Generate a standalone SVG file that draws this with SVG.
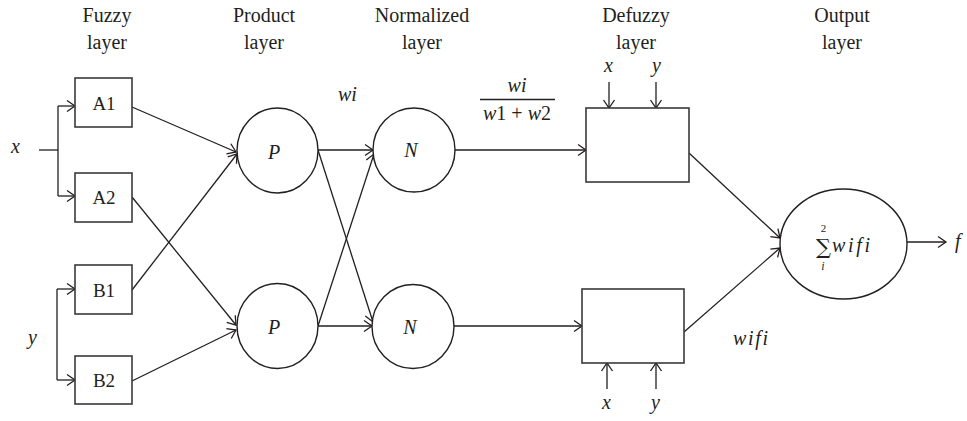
<svg xmlns="http://www.w3.org/2000/svg" width="967" height="421" viewBox="0 0 967 421">
  <defs>
    <marker id="ah" markerUnits="userSpaceOnUse" viewBox="-10 -8 12 16" markerWidth="12" markerHeight="16" refX="0" refY="0" orient="auto" overflow="visible">
      <path d="M-8,-5.5 L0,0 L-8,5.5" fill="none" stroke="#231f20" stroke-width="1.3"/>
    </marker>
    <style>
      text { font-family: "Liberation Serif", "Times New Roman", serif; fill: #231f20; }
      .hd { font-size: 20px; text-anchor: middle; }
      .lb { font-size: 19px; text-anchor: middle; }
      .it { font-size: 20px; font-style: italic; }
      .node { fill: #ffffff; stroke: #231f20; stroke-width: 1.4; }
      .box { fill: #ffffff; stroke: #3a3a3a; stroke-width: 1.6; }
      .conn line, .conn path { fill: none; stroke: #231f20; stroke-width: 1.3; }
      .arr { marker-end: url(#ah); }
    </style>
  </defs>
  <rect width="967" height="421" fill="#ffffff"/>

  <!-- layer headings -->
  <g id="headings">
    <text class="hd" x="107" y="22">Fuzzy</text>
    <text class="hd" x="107" y="49">layer</text>
    <text class="hd" x="264" y="22">Product</text>
    <text class="hd" x="264" y="49">layer</text>
    <text class="hd" x="422" y="22">Normalized</text>
    <text class="hd" x="422" y="49">layer</text>
    <text class="hd" x="636" y="22">Defuzzy</text>
    <text class="hd" x="636" y="49">layer</text>
    <text class="hd" x="842" y="22">Output</text>
    <text class="hd" x="842" y="49">layer</text>
  </g>

  <!-- connectors -->
  <g id="connectors" class="conn">
    <!-- input x fan-out -->
    <line x1="39" y1="150" x2="58" y2="150"/>
    <line x1="58" y1="106" x2="58" y2="196"/>
    <line class="arr" x1="58" y1="106" x2="75" y2="106"/>
    <line class="arr" x1="58" y1="196" x2="75" y2="196"/>
    <!-- input y fan-out -->
    <line x1="57" y1="289" x2="57" y2="380"/>
    <line class="arr" x1="57" y1="289" x2="75" y2="289"/>
    <line class="arr" x1="57" y1="380" x2="75" y2="380"/>
    <!-- fuzzy to product -->
    <line class="arr" x1="132" y1="107" x2="236" y2="152"/>
    <line class="arr" x1="132" y1="290" x2="237" y2="154"/>
    <line class="arr" x1="132" y1="197" x2="236" y2="325"/>
    <line class="arr" x1="132" y1="381" x2="236" y2="330"/>
    <!-- product to normalized -->
    <line class="arr" x1="318" y1="150" x2="373" y2="150"/>
    <line class="arr" x1="318" y1="150" x2="373" y2="322"/>
    <line class="arr" x1="318" y1="326" x2="374" y2="154"/>
    <line class="arr" x1="318" y1="326" x2="372" y2="326"/>
    <!-- normalized to defuzzy -->
    <line class="arr" x1="455" y1="150" x2="586" y2="150"/>
    <line class="arr" x1="453" y1="326" x2="582" y2="326"/>
    <!-- x, y into defuzzy blocks -->
    <line class="arr" x1="609" y1="82" x2="609" y2="108"/>
    <line class="arr" x1="656" y1="82" x2="656" y2="108"/>
    <line class="arr" x1="607" y1="389" x2="607" y2="363"/>
    <line class="arr" x1="656" y1="389" x2="656" y2="363"/>
    <!-- defuzzy to output -->
    <line class="arr" x1="689" y1="153" x2="780" y2="238"/>
    <line class="arr" x1="684" y1="332" x2="780" y2="248"/>
    <line class="arr" x1="907" y1="242" x2="946" y2="242"/>
  </g>

  <!-- input labels -->
  <g id="inputs">
    <text class="it" x="11" y="153">x</text>
    <text class="it" x="28" y="344">y</text>
    <text class="it" x="604" y="72">x</text>
    <text class="it" x="652" y="72">y</text>
    <text class="it" x="602" y="409">x</text>
    <text class="it" x="651" y="409">y</text>
  </g>

  <!-- fuzzy layer -->
  <g id="A1"><rect class="box" x="75" y="78" width="57" height="49"/><text class="lb" x="104" y="110">A1</text></g>
  <g id="A2"><rect class="box" x="75" y="173" width="57" height="49"/><text class="lb" x="104" y="204">A2</text></g>
  <g id="B1"><rect class="box" x="75" y="265" width="57" height="49"/><text class="lb" x="104" y="297">B1</text></g>
  <g id="B2"><rect class="box" x="75" y="356" width="57" height="48"/><text class="lb" x="104" y="387">B2</text></g>

  <!-- product layer -->
  <g id="P1"><ellipse class="node" cx="277.5" cy="150.5" rx="40.5" ry="42.5"/><text class="it" x="274" y="159" text-anchor="middle">P</text></g>
  <g id="P2"><ellipse class="node" cx="277.5" cy="326" rx="40.5" ry="42.5"/><text class="it" x="274" y="334" text-anchor="middle">P</text></g>

  <!-- normalized layer -->
  <g id="N1"><ellipse class="node" cx="414" cy="150" rx="41" ry="42"/><text class="it" x="411" y="157" text-anchor="middle">N</text></g>
  <g id="N2"><ellipse class="node" cx="413" cy="326.5" rx="41" ry="42"/><text class="it" x="410" y="334" text-anchor="middle">N</text></g>

  <!-- defuzzy layer -->
  <g id="D1"><rect class="box" x="586" y="108" width="103" height="74"/></g>
  <g id="D2"><rect class="box" x="582" y="289" width="102" height="74"/></g>

  <!-- output layer: summation with limits -->
  <g id="OUT">
    <ellipse class="node" cx="843.5" cy="244" rx="63.5" ry="55"/>
    <text x="823.5" y="254" text-anchor="middle" style="font-family:'DejaVu Serif',serif;font-size:21px">∑</text>
    <text x="823.5" y="232" text-anchor="middle" style="font-size:11px">2</text>
    <text x="823" y="270" text-anchor="middle" style="font-size:12px;font-style:italic">i</text>
    <text class="it" x="832" y="252" textLength="38" lengthAdjust="spacing">wifi</text>
  </g>

  <!-- signal labels -->
  <g id="labels">
    <text class="it" x="338" y="101">wi</text>
    <text class="it" x="517" y="92" text-anchor="middle">wi</text>
    <line x1="480" y1="99.5" x2="555" y2="99.5" stroke="#231f20" stroke-width="1.6"/>
    <text class="it" x="517" y="120" text-anchor="middle">w<tspan font-style="normal">1 + </tspan>w<tspan font-style="normal">2</tspan></text>
    <text class="it" x="733" y="345" textLength="35" lengthAdjust="spacing">wifi</text>
    <text class="it" x="955" y="248">f</text>
  </g>
</svg>
